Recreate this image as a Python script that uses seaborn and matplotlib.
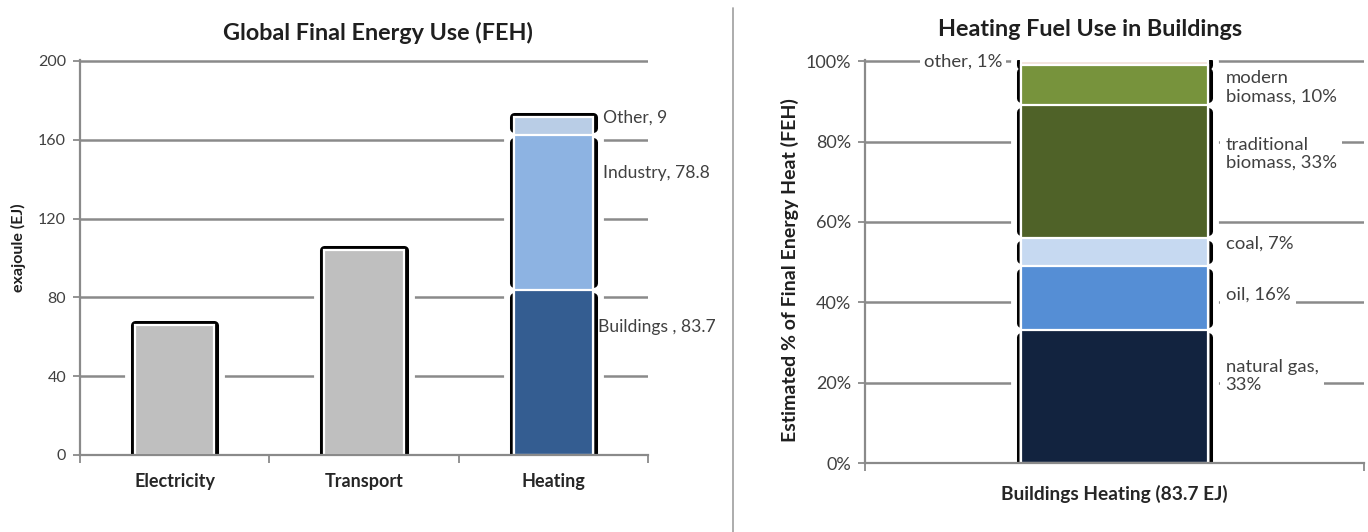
import numpy as np
import matplotlib
matplotlib.use("Agg")
import matplotlib.pyplot as plt
from matplotlib.lines import Line2D
from matplotlib.ticker import PercentFormatter
import seaborn as sns

sns.set_theme(style="white")
plt.rcParams["font.family"] = ["Lato", "DejaVu Sans"]

# ---- global final energy use (EJ) ----
sectors = ["Electricity", "Transport", "Heating"]
plain_sectors = ["Electricity", "Transport"]
plain_values = [66.0, 104.0]
heat_parts = ["Buildings ", "Industry", "Other"]
heat_values = [83.7, 78.8, 9.0]
heat_colors = ["#345d91", "#8db3e2", "#b9cde6"]
plain_color = "#bfbfbf"

# ---- heating fuel shares in buildings (%) ----
building_category = ["Buildings Heating (83.7 EJ)"]
fuel_names = ["natural gas", "oil", "coal", "traditional\nbiomass", "modern\nbiomass", "other"]
fuel_shares = [33, 16, 7, 33, 10, 1]
fuel_breaks = [",\n", ", ", ", ", ", ", ", ", ", "]
fuel_colors = ["#12233f", "#558ed5", "#c6d9f1", "#4f6228", "#77933c", "#f2e2da"]

# label anchors on the value axis
heat_label_y = [65, 143, 171.5]
heat_label_dx = [5, 10, 10]
fuel_label_y = [21.6, 42, 54.6, 77, 93.5, 100]

GRID = "#8a8a8a"
TEXT = "#404040"
DARK = "#1f1f1f"


def new_patches(ax, before):
    return [p for p in ax.patches[before:] if np.isfinite(p.get_height()) and p.get_height() > 0]


def frame_stack(ax, patch, bounds, gap_px=7.0, cap_top=True):
    """Black bracket outline around a (stacked) bar, broken at each boundary."""
    x0 = patch.get_x()
    x1 = x0 + patch.get_width()
    ymin, ymax = ax.get_ylim()
    gap = gap_px * (ymax - ymin) / ax.bbox.height
    top = bounds[-1]
    ax.plot([x0, x0, x1, x1], [bounds[0], top, top, bounds[0]], color="white",
            lw=15, solid_joinstyle="round", solid_capstyle="butt", zorder=1.2)
    n = len(bounds) - 1
    for i in range(n):
        last = i == n - 1
        lo = bounds[i] + (gap if i > 0 else 0)
        hi = bounds[i + 1] - (0 if last else gap)
        if last and cap_top:
            lo = min(lo, hi)
            ax.plot([x0, x0, x1, x1], [lo, hi, hi, lo], color="black", lw=6.5,
                    solid_capstyle="round", solid_joinstyle="round", zorder=1.5)
        else:
            lo = min(lo, hi - 0.6 * gap)
            for x in (x0, x1):
                ax.plot([x, x], [lo, hi], color="black", lw=6.5,
                        solid_capstyle="round", zorder=1.5)


def style_axes(ax, boundaries, ytick_size, xlabel_size):
    ax.set_axisbelow(True)
    ax.yaxis.grid(True, color=GRID, lw=1.8)
    ax.xaxis.grid(False)
    for side in ("top", "right"):
        ax.spines[side].set_visible(False)
    for side in ("left", "bottom"):
        ax.spines[side].set_color(GRID)
        ax.spines[side].set_linewidth(1.6)
    ax.tick_params(axis="y", left=True, length=5, width=1.3, color=GRID,
                   labelsize=ytick_size, labelcolor=TEXT, pad=5)
    ax.set_xticks(boundaries, minor=True)
    ax.tick_params(axis="x", which="minor", bottom=True, length=6, width=1.3,
                   color=GRID, direction="out")
    ax.tick_params(axis="x", which="major", length=0, labelsize=xlabel_size,
                   labelcolor="#262626")
    for t in ax.get_xticklabels():
        t.set_fontweight("bold")
    ax.set_xlabel("")
    ax.set_ylabel("")


fig = plt.figure(figsize=(13.68, 5.32), dpi=100)
axL = fig.add_axes([80 / 1368, 77 / 532, 568 / 1368, 395 / 532])
axR = fig.add_axes([865 / 1368, 69 / 532, 499 / 1368, 403 / 532])

# ---------- left: final energy by sector ----------
BAR_W_L = 0.42
n0 = len(axL.patches)
sns.barplot(x=plain_sectors, y=plain_values, order=sectors, color=plain_color,
            width=BAR_W_L, edgecolor="white", linewidth=1.6, errorbar=None,
            saturation=1, zorder=2, ax=axL)
plain_patches = new_patches(axL, n0)

heat_cum = np.cumsum(heat_values)
heat_patch = None
for i in reversed(range(len(heat_values))):
    n0 = len(axL.patches)
    sns.barplot(x=["Heating"], y=[heat_cum[i]], order=sectors, color=heat_colors[i],
                width=BAR_W_L, edgecolor="white", linewidth=1.6, errorbar=None,
                saturation=1, zorder=2, ax=axL)
    heat_patch = new_patches(axL, n0)[0]

axL.set_xlim(-0.5, 2.5)
axL.set_ylim(0, 200.5)
axL.set_yticks(np.arange(0, 201, 40))
style_axes(axL, [-0.5, 0.5, 1.5, 2.5], ytick_size=11.5, xlabel_size=13)
axL.tick_params(axis="x", which="major", pad=13)

for p in plain_patches:
    frame_stack(axL, p, [0, p.get_height()])
frame_stack(axL, heat_patch, [0] + list(heat_cum))

hx1 = heat_patch.get_x() + heat_patch.get_width()
for name, val, y, dx in zip(heat_parts, heat_values, heat_label_y, heat_label_dx):
    axL.annotate(f"{name}, {val:g}", xy=(hx1, y), xytext=(dx, 0),
                 textcoords="offset pixels", ha="left", va="center",
                 fontsize=12.6, color=TEXT,
                 bbox=dict(boxstyle="square,pad=0.2", fc="white", ec="none"),
                 zorder=1.3)

# ---------- right: heating fuels in buildings ----------
BAR_W_R = 0.373
fuel_cum = np.cumsum(fuel_shares)
fuel_patch = None
for i in reversed(range(len(fuel_shares))):
    n0 = len(axR.patches)
    sns.barplot(x=building_category, y=[fuel_cum[i]], color=fuel_colors[i],
                width=BAR_W_R, edgecolor="white", linewidth=1.6, errorbar=None,
                saturation=1, zorder=2, ax=axR)
    fuel_patch = new_patches(axR, n0)[0]

axR.set_xlim(-0.5, 0.5)
axR.set_ylim(0, 100.3)
axR.set_yticks(np.arange(0, 101, 20))
axR.yaxis.set_major_formatter(PercentFormatter(100, decimals=0))
style_axes(axR, [-0.5, 0.5], ytick_size=13, xlabel_size=13.8)
axR.tick_params(axis="x", which="major", pad=16)

frame_stack(axR, fuel_patch, [0] + list(fuel_cum), cap_top=False)

fx0 = fuel_patch.get_x()
fx1 = fx0 + fuel_patch.get_width()
for k, (name, share, sep, y) in enumerate(zip(fuel_names, fuel_shares, fuel_breaks, fuel_label_y)):
    text = f"{name}{sep}{share}%"
    if k == len(fuel_names) - 1:
        axR.annotate(text, xy=(fx0, y), xytext=(-19, 0), textcoords="offset pixels",
                     ha="right", va="center", fontsize=13.3, color=TEXT,
                     bbox=dict(boxstyle="square,pad=0.2", fc="white", ec="none"),
                     zorder=1.3)
    else:
        axR.annotate(text, xy=(fx1, y), xytext=(18, 0), textcoords="offset pixels",
                     ha="left", va="center", fontsize=13.3, color=TEXT,
                     linespacing=1.15,
                     bbox=dict(boxstyle="square,pad=0.3", fc="white", ec="none"),
                     zorder=1.3)

# ---------- titles, axis titles, divider ----------
fig.text(378 / 1368, 1 - 33 / 532, "Global Final Energy Use (FEH)", ha="center",
         va="center", fontsize=16.8, fontweight="bold", color=DARK)
fig.text(1090 / 1368, 1 - 29 / 532, "Heating Fuel Use in Buildings", ha="center",
         va="center", fontsize=16.8, fontweight="bold", color=DARK)
fig.text(18 / 1368, 1 - 248 / 532, "exajoule (EJ)", rotation=90, ha="center",
         va="center", fontsize=11.5, fontweight="bold", color=DARK)
fig.text(790 / 1368, 1 - 270 / 532, "Estimated % of Final Energy Heat (FEH)",
         rotation=90, ha="center", va="center", fontsize=14, fontweight="bold",
         color=DARK)
fig.add_artist(Line2D([733 / 1368] * 2, [0, 1 - 8 / 532], color="#a6a6a6", lw=1.3))

fig.savefig("out.png", dpi=100, facecolor="white")
